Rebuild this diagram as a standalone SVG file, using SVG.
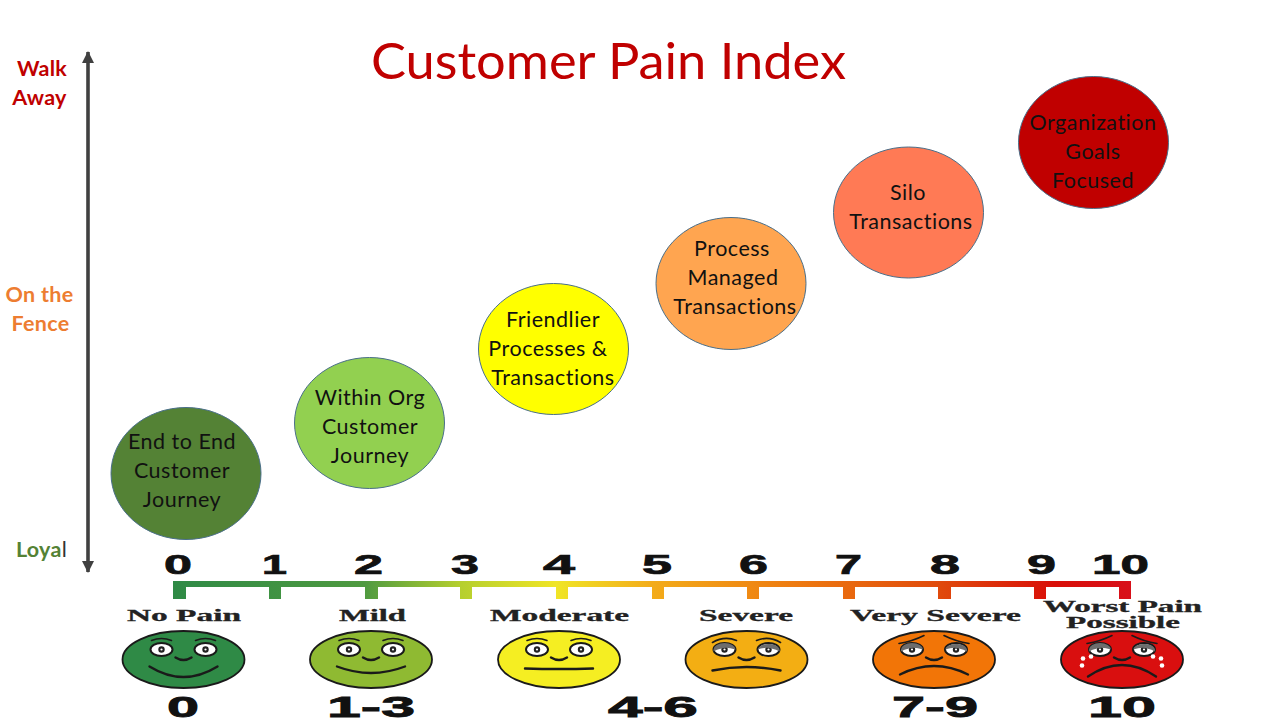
<svg xmlns="http://www.w3.org/2000/svg" xmlns:xlink="http://www.w3.org/1999/xlink" width="1280" height="720" viewBox="0 0 1280 720">
<style>
.t{font-family:Lato,"Open Sans",sans-serif;font-size:21.5px;letter-spacing:.5px;fill:#111;text-anchor:middle}
.side{font-family:Lato,"Open Sans",sans-serif;font-size:21.5px;letter-spacing:.3px;font-weight:700;text-anchor:middle}
.circ{stroke:#4a6f8a;stroke-width:1}
.num{font-family:"Liberation Sans",Arial,sans-serif;font-weight:700;font-size:27px;fill:#111;stroke:#111;stroke-width:.7}
.big{font-family:"Liberation Sans",Arial,sans-serif;font-weight:700;font-size:30px;fill:#111;stroke:#111;stroke-width:.8}
.lab{font-family:"Liberation Serif","Times New Roman",serif;font-weight:700;font-size:16.5px;fill:#222;stroke:#222;stroke-width:.3}
.f{stroke:#1a1a1a;stroke-width:1.8}
.e{fill:#fff;stroke:#1a1a1a;stroke-width:2}
.l{fill:none;stroke:#1a1a1a;stroke-width:1.6;stroke-linecap:round}
.m{fill:none;stroke:#1a1a1a;stroke-width:2.4;stroke-linecap:round}
</style>
<defs>
<linearGradient id="bar" gradientUnits="userSpaceOnUse" x1="173" y1="0" x2="1131" y2="0">
<stop offset="0" stop-color="#2f8a46"/><stop offset="0.2" stop-color="#4f9a40"/><stop offset="0.3" stop-color="#b5cf2e"/><stop offset="0.4" stop-color="#f0e526"/><stop offset="0.5" stop-color="#f3ac1a"/><stop offset="0.65" stop-color="#ee7a10"/><stop offset="0.8" stop-color="#e04a0c"/><stop offset="0.92" stop-color="#d90f08"/><stop offset="1" stop-color="#d8101a"/>
</linearGradient>
<marker id="ah" viewBox="0 0 12 12" refX="11" refY="6" markerWidth="3.4" markerHeight="3.4" orient="auto-start-reverse" markerUnits="strokeWidth"><path d="M0 0L12 6L0 12Z" fill="#404040"/></marker>
<g id="eyes">
<ellipse cx="-22" cy="-10" rx="11" ry="6.500" class="e"/><ellipse cx="22" cy="-10" rx="11" ry="6.500" class="e"/>
<circle cx="-22" cy="-10" r="3.200" fill="#222"/><circle cx="22" cy="-10" r="3.200" fill="#222"/>
<circle cx="-22" cy="-10" r="1.100" fill="#fff"/><circle cx="22" cy="-10" r="1.100" fill="#fff"/>
<path class="m" d="M-8 -2Q0 3 8 -2"/>
</g>
<g id="lids">
<path d="M-33 -10A11 6.500 0 0 1 -11 -10Q-20 -13 -25 -11Q-30 -10 -33 -8Z" fill="#6d6d6d"/><path d="M11 -10A11 6.500 0 0 1 33 -8Q30 -10 25 -11Q20 -13 11 -10Z" fill="#6d6d6d"/>
</g>
</defs>
<rect width="1280" height="720" fill="#fff"/>
<text id="title" x="608.500" y="79" font-family="Lato,'Open Sans',sans-serif" font-size="50" fill="#c00000" text-anchor="middle" textLength="475" lengthAdjust="spacingAndGlyphs">Customer Pain Index</text>
<g id="connectors"><line x1="88" y1="572" x2="88" y2="52" stroke="#404040" stroke-width="3.6" marker-start="url(#ah)" marker-end="url(#ah)"/></g>
<g id="side-labels">
<text class="side" x="42" y="76" fill="#c00000">Walk</text><text class="side" x="39.500" y="105" fill="#c00000">Away</text>
<text class="side" x="39.500" y="302" fill="#ed7d31">On the</text><text class="side" x="40.500" y="331" fill="#ed7d31">Fence</text>
<text class="side" x="41.500" y="557" fill="#548235">Loya<tspan fill="#333" font-weight="400">l</tspan></text>
</g>
<g id="node1"><ellipse class="circ" cx="186" cy="473.500" rx="75" ry="66" fill="#548235"/><text class="t" x="182" y="449">End to End</text><text class="t" x="182" y="478">Customer</text><text class="t" x="182" y="507">Journey</text></g>
<g id="node2"><ellipse class="circ" cx="369.500" cy="423" rx="75" ry="65.500" fill="#92d050"/><text class="t" x="370" y="405">Within Org</text><text class="t" x="370" y="434">Customer</text><text class="t" x="370" y="463">Journey</text></g>
<g id="node3"><ellipse class="circ" cx="553.500" cy="349" rx="75" ry="65.500" fill="#ffff00"/><text class="t" x="553" y="327">Friendlier</text><text class="t" x="548" y="356">Processes &amp;</text><text class="t" x="553" y="385">Transactions</text></g>
<g id="node4"><ellipse class="circ" cx="731" cy="283.500" rx="75" ry="66" fill="#ffa550"/><text class="t" x="732" y="256">Process</text><text class="t" x="733" y="285">Managed</text><text class="t" x="735" y="314">Transactions</text></g>
<g id="node5"><ellipse class="circ" cx="908.500" cy="212.500" rx="75" ry="65.500" fill="#ff7a55"/><text class="t" x="908" y="200">Silo</text><text class="t" x="911" y="229">Transactions</text></g>
<g id="node6"><ellipse class="circ" cx="1093.500" cy="142.500" rx="75" ry="66" fill="#c00000"/><text class="t" x="1093" y="130">Organization</text><text class="t" x="1093" y="159">Goals</text><text class="t" x="1093" y="188">Focused</text></g>
<g id="scale">
<path fill="url(#bar)" d="M173 581H1131V599H1119V587H1046V599H1034V587H951V599H938V587H855V599H843V587H759V599H747V587H664V599H652V587H568V599H556V587H472V599H460V587H378V599H365V587H281V599H269V587H186V599H173Z"/>
<text class="num" x="164" y="574" textLength="28" lengthAdjust="spacingAndGlyphs">0</text>
<text class="num" x="262" y="574" textLength="25" lengthAdjust="spacingAndGlyphs">1</text>
<text class="num" x="354" y="574" textLength="29" lengthAdjust="spacingAndGlyphs">2</text>
<text class="num" x="451" y="574" textLength="28" lengthAdjust="spacingAndGlyphs">3</text>
<text class="num" x="543" y="574" textLength="32" lengthAdjust="spacingAndGlyphs">4</text>
<text class="num" x="642" y="574" textLength="30" lengthAdjust="spacingAndGlyphs">5</text>
<text class="num" x="739" y="574" textLength="29" lengthAdjust="spacingAndGlyphs">6</text>
<text class="num" x="835" y="574" textLength="27" lengthAdjust="spacingAndGlyphs">7</text>
<text class="num" x="930" y="574" textLength="30" lengthAdjust="spacingAndGlyphs">8</text>
<text class="num" x="1027" y="574" textLength="29" lengthAdjust="spacingAndGlyphs">9</text>
<text class="num" x="1092" y="574" textLength="57" lengthAdjust="spacingAndGlyphs">10</text>
<text class="lab" x="127" y="621" textLength="114" lengthAdjust="spacingAndGlyphs">No Pain</text>
<text class="lab" x="339" y="621" textLength="67" lengthAdjust="spacingAndGlyphs">Mild</text>
<text class="lab" x="490" y="621" textLength="139" lengthAdjust="spacingAndGlyphs">Moderate</text>
<text class="lab" x="699" y="621" textLength="94" lengthAdjust="spacingAndGlyphs">Severe</text>
<text class="lab" x="850" y="621" textLength="171" lengthAdjust="spacingAndGlyphs">Very Severe</text>
<text class="lab" x="1043" y="612" textLength="159" lengthAdjust="spacingAndGlyphs">Worst Pain</text>
<text class="lab" x="1066" y="628" textLength="114" lengthAdjust="spacingAndGlyphs">Possible</text>
<text class="big" x="167" y="717" textLength="32" lengthAdjust="spacingAndGlyphs">0</text>
<text class="big" x="327" y="717" textLength="88" lengthAdjust="spacingAndGlyphs">1-3</text>
<text class="big" x="608" y="717" textLength="90" lengthAdjust="spacingAndGlyphs">4-6</text>
<text class="big" x="892" y="717" textLength="86" lengthAdjust="spacingAndGlyphs">7-9</text>
<text class="big" x="1088" y="717" textLength="68" lengthAdjust="spacingAndGlyphs">10</text>
</g>
<g id="face0" transform="translate(183.500 659.500)"><ellipse class="f" rx="61" ry="28.500" fill="#2f8a46"/><use xlink:href="#eyes" href="#eyes"/><path class="l" d="M-32 -19Q-22 -23 -12 -19M12 -19Q22 -23 32 -19"/><path class="m" d="M-34 7Q0 28 34 7"/></g>
<g id="face1" transform="translate(371 659.500)"><ellipse class="f" rx="61" ry="28.500" fill="#8fba32"/><use xlink:href="#eyes" href="#eyes"/><path class="l" d="M-32 -19Q-22 -23 -12 -19M12 -19Q22 -23 32 -19"/><path class="m" d="M-34 7Q0 20 34 7"/></g>
<g id="face2" transform="translate(559 659.500)"><ellipse class="f" rx="61" ry="28.500" fill="#f5ee22"/><use xlink:href="#eyes" href="#eyes"/><path class="l" d="M-32 -19Q-22 -23 -12 -19M12 -19Q22 -23 32 -19"/><path class="m" d="M-34 9Q0 10 34 9"/></g>
<g id="face3" transform="translate(746.500 659.500)"><ellipse class="f" rx="61" ry="28.500" fill="#f3ae13"/><use xlink:href="#eyes" href="#eyes"/><use xlink:href="#lids" href="#lids"/><path class="l" d="M-34 -17Q-22 -24 -10 -19M10 -19Q22 -24 34 -17"/><path class="m" d="M-34 11Q0 4 34 11"/></g>
<g id="face4" transform="translate(934 659.500)"><ellipse class="f" rx="61" ry="28.500" fill="#f27507"/><use xlink:href="#eyes" href="#eyes"/><use xlink:href="#lids" href="#lids"/><path class="l" d="M-35 -16Q-22 -18 -10 -24M10 -24Q22 -18 35 -16"/><path class="m" d="M-34 15Q0 -2 34 15"/></g>
<g id="face5" transform="translate(1122 659.500)"><ellipse class="f" rx="61" ry="28.500" fill="#d90f0f"/><use xlink:href="#eyes" href="#eyes"/><use xlink:href="#lids" href="#lids"/><path class="l" d="M-35 -16Q-22 -18 -10 -24M10 -24Q22 -18 35 -16"/><path class="m" d="M-34 17Q0 -6 34 17"/><g fill="#fff"><circle cx="-31" cy="-3" r="2.300"/><circle cx="-39" cy="-1" r="2.300"/><circle cx="-40" cy="6" r="2.300"/><circle cx="31" cy="-3" r="2.300"/><circle cx="39" cy="-1" r="2.300"/><circle cx="40" cy="6" r="2.300"/></g></g>
</svg>
